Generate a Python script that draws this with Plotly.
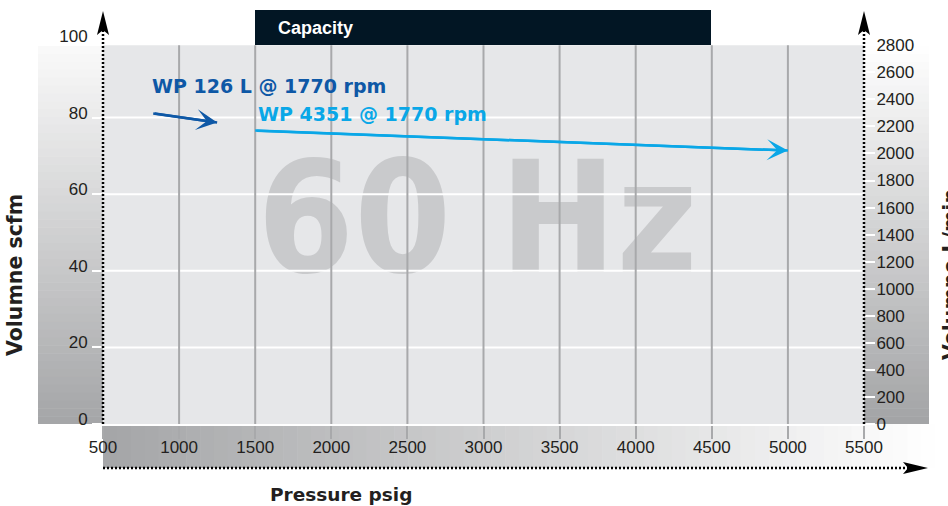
import plotly.graph_objects as go

# ---------------- data ----------------
pressure_ticks = [500, 1000, 1500, 2000, 2500, 3000, 3500, 4000, 4500, 5000, 5500]
scfm_ticks = [0, 20, 40, 60, 80, 100]
lmin_ticks = [0, 200, 400, 600, 800, 1000, 1200, 1400, 1600, 1800, 2000, 2200, 2400, 2600, 2800]

wp4351_pressure = [1500, 5000]
wp4351_scfm = [76.6, 71.4]

wp126l_pressure = [830, 1250]
wp126l_scfm = [81.1, 78.7]

SCFM_TO_LMIN = 28.317
LMIN_TOP = 2800          # top of the chart panel in L/min
CAPACITY_SPAN = [1500, 4500]

# ---------------- styles ----------------
W, H = 948, 506
L, R, T, B = 103, 84, 41, 82
PW, PH = W - L - R, H - T - B
BOTTOM = H - B

DARK_BLUE = "#0e58a6"
LIGHT_BLUE = "#0aa7e7"
TXT = "#231f20"
GRID_V = "#a8a9ab"
PANEL = "#e6e7e9"
WATERMARK = "#c9cacc"

TICK_FONT = dict(family="Liberation Sans, Arial, sans-serif", size=17, color=TXT)
TITLE_FONT = dict(family="DejaVu Sans, sans-serif", size=20.5, color=TXT, weight="bold")


def px(x):
    return (x - L) / PW


def py(y):
    return (BOTTOM - y) / PH


def mix(c0, c1, t):
    return "rgb({},{},{})".format(*[round(a + (b - a) * t) for a, b in zip(c0, c1)])


shapes = []


def vgrad(x0, x1, y0, y1, c0, c1, n=48):
    for i in range(n):
        ya = y0 + (y1 - y0) * i / n
        yb = y0 + (y1 - y0) * (i + 1) / n
        shapes.append(dict(type="rect", xref="paper", yref="paper", layer="below",
                           x0=px(x0), x1=px(x1), y0=py(min(yb + 0.6, y1)), y1=py(ya),
                           fillcolor=mix(c0, c1, (i + 0.5) / n), line=dict(width=0)))


def hgrad(x0, x1, y0, y1, c0, c1, n=60):
    for i in range(n):
        xa = x0 + (x1 - x0) * i / n
        xb = x0 + (x1 - x0) * (i + 1) / n
        shapes.append(dict(type="rect", xref="paper", yref="paper", layer="below",
                           x0=px(xa), x1=px(min(xb + 0.6, x1)), y0=py(y1), y1=py(y0),
                           fillcolor=mix(c0, c1, (i + 0.5) / n), line=dict(width=0)))


top_scfm = LMIN_TOP / SCFM_TO_LMIN

# side / bottom gradient bands
vgrad(38, L, 46, BOTTOM, (250, 250, 250), (164, 165, 167))
vgrad(L + PW, 929, 46, BOTTOM, (255, 255, 255), (162, 163, 165))
hgrad(L, 935, BOTTOM, 468, (164, 165, 167), (255, 255, 255))

# panel background
shapes.append(dict(type="rect", xref="x", yref="y", layer="below",
                   x0=pressure_ticks[0], x1=pressure_ticks[-1], y0=0, y1=top_scfm,
                   fillcolor=PANEL, line=dict(width=0)))

# watermark
shapes.append(dict(type="rect", xref="x", yref="y", layer="below",
                   x0=1900, x1=4020, y0=40.1, y1=73.1,
                   fillcolor="rgba(0,0,0,0)", line=dict(width=0),
                   label=dict(text="60 Hz", textposition="middle center",
                              font=dict(family="DejaVu Sans Condensed, Liberation Sans, sans-serif",
                                        size=155, color=WATERMARK, weight="bold"))))

# gridlines (between panel and traces)
for v in scfm_ticks[1:-1]:
    shapes.append(dict(type="line", xref="x", yref="y", layer="between",
                       x0=pressure_ticks[0], x1=pressure_ticks[-1], y0=v, y1=v,
                       line=dict(color="white", width=2)))
for p in pressure_ticks[1:-1]:
    shapes.append(dict(type="line", xref="x", yref="y", layer="between",
                       x0=p, x1=p, y0=0, y1=top_scfm,
                       line=dict(color=GRID_V, width=2)))

# capacity header box
shapes.append(dict(type="rect", xref="paper", yref="paper", layer="above",
                   x0=px(255), x1=px(711), y0=py(45), y1=py(10),
                   fillcolor="#021624", line=dict(width=0)))

# dotted axes + arrow heads
DOT = dict(color="black", width=2.5, dash="2px,2px")
for xa in (L, L + PW):
    shapes.append(dict(type="line", xref="paper", yref="paper", layer="above",
                       x0=px(xa), x1=px(xa), y0=py(BOTTOM), y1=py(30), line=DOT))
    shapes.append(dict(type="path", xref="paper", yref="paper", layer="above",
                       path="M{},{} L{},{} L{},{} L{},{} Z".format(
                           px(xa), py(11), px(xa - 6), py(35), px(xa), py(30), px(xa + 6), py(35)),
                       fillcolor="black", line=dict(width=0)))
shapes.append(dict(type="line", xref="paper", yref="paper", layer="above",
                   x0=px(L), x1=px(908), y0=py(468), y1=py(468), line=DOT))
shapes.append(dict(type="path", xref="paper", yref="paper", layer="above",
                   path="M{},{} L{},{} L{},{} L{},{} Z".format(
                       px(928), py(468), px(903), py(462), px(908), py(468), px(903), py(474)),
                   fillcolor="black", line=dict(width=0)))

fig = go.Figure()
fig.add_trace(go.Scatter(x=wp4351_pressure, y=wp4351_scfm, mode="lines",
                         line=dict(color=LIGHT_BLUE, width=2.5),
                         name="WP 4351 @ 1770 rpm", showlegend=False))
fig.add_trace(go.Scatter(x=wp126l_pressure, y=wp126l_scfm, mode="lines",
                         line=dict(color=DARK_BLUE, width=2.5),
                         name="WP 126 L @ 1770 rpm", showlegend=False))
fig.add_trace(go.Scatter(x=[pressure_ticks[0]], y=[0], yaxis="y2", mode="markers",
                         marker=dict(opacity=0), showlegend=False, hoverinfo="skip"))

annotations = [
    dict(x=wp4351_pressure[-1], y=wp4351_scfm[-1], ax=wp4351_pressure[0], ay=wp4351_scfm[0],
         xref="x", yref="y", axref="x", ayref="y", text="", showarrow=True,
         arrowhead=3, arrowsize=1.4, arrowwidth=2.5, arrowcolor=LIGHT_BLUE, standoff=0),
    dict(x=wp126l_pressure[-1], y=wp126l_scfm[-1], ax=wp126l_pressure[0], ay=wp126l_scfm[0],
         xref="x", yref="y", axref="x", ayref="y", text="", showarrow=True,
         arrowhead=3, arrowsize=1.4, arrowwidth=2.5, arrowcolor=DARK_BLUE, standoff=0),
    dict(x=806, y=88.3, xref="x", yref="y", xanchor="left", yanchor="middle",
         text="WP 126 L @ 1770 rpm", showarrow=False,
         font=dict(family="DejaVu Sans, sans-serif", size=19, color=DARK_BLUE, weight="bold")),
    dict(x=1505, y=80.9, xref="x", yref="y", xanchor="left", yanchor="middle",
         text="WP 4351 @ 1770 rpm", showarrow=False,
         font=dict(family="DejaVu Sans, sans-serif", size=19, color=LIGHT_BLUE, weight="bold")),
    dict(x=px(276), y=py(28), xref="paper", yref="paper", xanchor="left", yanchor="middle",
         text="Capacity", showarrow=False,
         font=dict(family="Liberation Sans, Arial, sans-serif", size=18, color="white", weight="bold")),
    # axis titles
    dict(x=px(341), y=py(494), xref="paper", yref="paper", xanchor="center", yanchor="middle",
         text="Pressure psig", showarrow=False, font=dict(TITLE_FONT, size=18.5)),
    dict(x=px(15), y=py(275), xref="paper", yref="paper", xanchor="center", yanchor="middle",
         text="Volumne scfm", showarrow=False, textangle=-90, font=TITLE_FONT),
    dict(x=px(951), y=py(274), xref="paper", yref="paper", xanchor="center", yanchor="middle",
         text="Volumne L/min", showarrow=False, textangle=-90, font=TITLE_FONT),
]

fig.update_layout(
    width=W, height=H,
    margin=dict(l=L, r=R, t=T, b=B, autoexpand=False),
    paper_bgcolor="white", plot_bgcolor="rgba(0,0,0,0)",
    showlegend=False,
    shapes=shapes, annotations=annotations,
    xaxis=dict(range=[pressure_ticks[0], pressure_ticks[-1]], tickvals=pressure_ticks,
               ticks="outside", ticklen=13, tickwidth=2, tickcolor=GRID_V,
               showline=True, linecolor="white", linewidth=2,
               showgrid=False, zeroline=False, tickfont=TICK_FONT,
               ticklabelstandoff=-6, fixedrange=True),
    yaxis=dict(range=[0, 100], tickvals=scfm_ticks,
               ticks="outside", ticklen=10, tickwidth=2, tickcolor="white",
               showline=False, showgrid=False, zeroline=False, tickfont=TICK_FONT,
               ticklabelshift=-5, ticklabelstandoff=1, fixedrange=True),
    yaxis2=dict(range=[0, 100 * SCFM_TO_LMIN], tickvals=lmin_ticks, overlaying="y", side="right",
                anchor="x",
                ticks="outside", ticklen=10, tickwidth=2, tickcolor="white",
                showline=False, showgrid=False, zeroline=False, tickfont=TICK_FONT,
                ticklabelstandoff=-2, fixedrange=True),
)

fig.write_html("out.html", config=dict(displayModeBar=False),
               post_script="document.body.style.margin='0';document.body.style.overflow='hidden';")
